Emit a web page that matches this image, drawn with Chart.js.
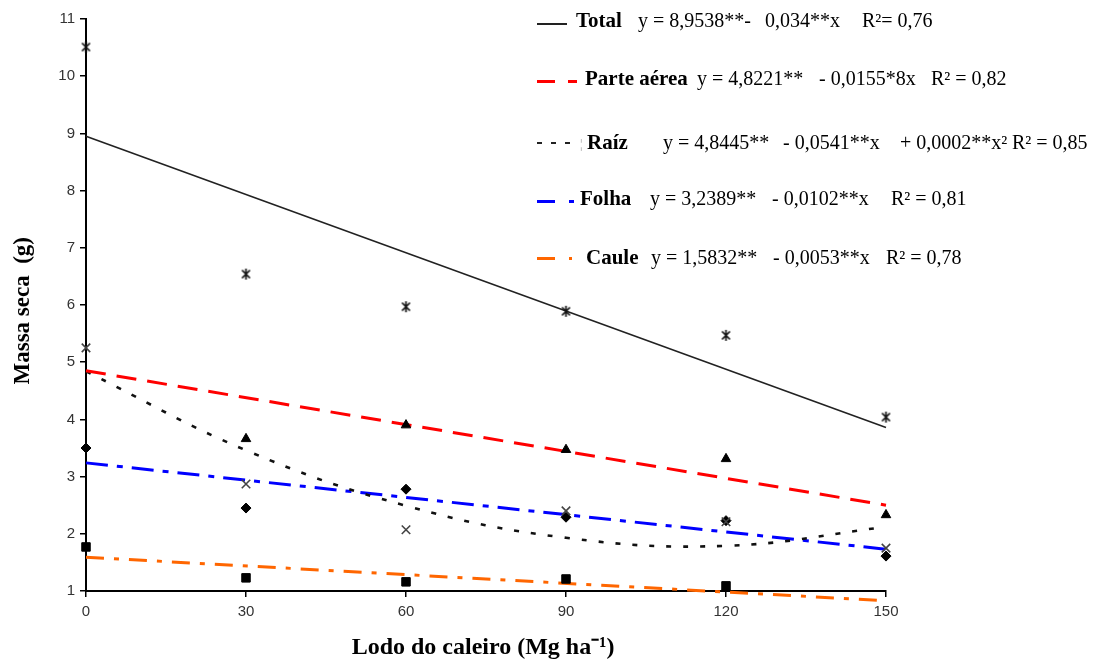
<!DOCTYPE html>
<html>
<head>
<meta charset="utf-8">
<script src="https://cdn.jsdelivr.net/npm/chart.js@4.4.1/dist/chart.umd.min.js"></script>
<style>
  html, body { margin: 0; padding: 0; background: #fff; }
  #wrap { position: relative; width: 1094px; height: 662px; }
  #c { position: absolute; left: 0; top: 0; }
  .lg { position: absolute; font-family: "Liberation Serif", "Times New Roman", serif; font-size: 20px; line-height: 20px; color: #000; white-space: nowrap; }
  .b { font-weight: bold; font-size: 21px; }
  .ln { position: absolute; }
</style>
</head>
<body>
<div id="wrap">
  <canvas id="c" width="1094" height="662"></canvas>
</div>
<script>
// ---- data ----
const doses = [0, 30, 60, 90, 120, 150];
const xTicks = [0, 30, 60, 90, 120, 150];
const yTicks = [1, 2, 3, 4, 5, 6, 7, 8, 9, 10, 11];

// observed means
const totalObs      = [10.51, 6.54, 5.97, 5.89, 5.47, 4.04];
const parteAereaObs = [null, 3.66, 3.90, 3.47, 3.31, 2.33];
const raizObs       = [5.25, 2.87, 2.07, 2.40, 2.21, 1.75];
const folhaObs      = [3.50, 2.45, 2.78, 2.29, 2.23, 1.61];
const cauleObs      = [1.77, 1.23, 1.16, 1.21, 1.09, null];

// fitted curves as drawn
const lineX         = [0, 150];
const totalFit      = [8.95, 3.86];
const parteAereaFit = [4.85, 2.50];
const raizFit       = [4.84, 3.46, 2.49, 1.93, 1.79, 2.12];
const folhaFit      = [3.24, 1.73];
const cauleFit      = [1.59, 0.83];

// legend entries
const legendNames = ["Total", "Parte aérea", "Raíz", "Folha", "Caule"];

function pts(xs, ys) {
  const out = [];
  xs.forEach((x, i) => { if (ys[i] !== null) out.push({ x: x, y: ys[i] }); });
  return out;
}

// asterisk marker (x with vertical bar)
function asterisk() {
  const c = document.createElement('canvas');
  c.width = 13; c.height = 13;
  const g = c.getContext('2d');
  g.strokeStyle = '#111'; g.lineWidth = 1.7;
  g.beginPath();
  g.moveTo(2.5, 2.5); g.lineTo(10.5, 10.5);
  g.moveTo(10.5, 2.5); g.lineTo(2.5, 10.5);
  g.moveTo(6.5, 1); g.lineTo(6.5, 12);
  g.stroke();
  return c;
}

function pointSet(label, data, style, radius, color, fill) {
  return {
    label: label, data: pts(doses, data), showLine: false, clip: false,
    pointStyle: style, pointRadius: radius, pointHoverRadius: radius,
    pointBackgroundColor: fill ? color : 'rgba(0,0,0,0)',
    pointBorderColor: color, pointBorderWidth: fill ? 1 : 1.6
  };
}
function lineSet(label, xs, ys, color, width, dash, tension) {
  return {
    label: label, data: pts(xs, ys), showLine: true, clip: false,
    borderColor: color, borderWidth: width, borderDash: dash,
    pointRadius: 0, pointHoverRadius: 0, tension: tension || 0,
    fill: false
  };
}

const datasets = [
  pointSet('Total obs', totalObs, asterisk(), 6, '#111', false),
  pointSet('Parte aérea obs', parteAereaObs, 'triangle', 5.5, '#000', true),
  pointSet('Raíz obs', raizObs, 'crossRot', 6, '#444', false),
  pointSet('Folha obs', folhaObs, 'rectRot', 5, '#000', true),
  pointSet('Caule obs', cauleObs, 'rect', 6, '#000', true),
  lineSet('Total', lineX, totalFit, '#222', 1.6, []),
  lineSet('Parte aérea', lineX, parteAereaFit, '#ff0000', 3, [20, 11]),
  lineSet('Raíz', doses, raizFit, '#111', 2.6, [5, 12], 0.4),
  lineSet('Folha', lineX, folhaFit, '#0000ff', 3, [22, 9, 6, 9]),
  lineSet('Caule', lineX, cauleFit, '#ff6600', 3, [18, 10, 5, 10])
];

new Chart(document.getElementById('c'), {
  type: 'scatter',
  data: { datasets: datasets },
  options: {
    responsive: false,
    animation: false,
    devicePixelRatio: 1,
    layout: { padding: { top: 19, right: 208, left: 0, bottom: 0 } },
    plugins: { legend: { display: false }, tooltip: { enabled: false } },
    scales: {
      x: {
        type: 'linear', min: 0, max: 150,
        afterBuildTicks: s => { s.ticks = xTicks.map(v => ({ value: v })); },
        afterFit: s => { s.height = 71; },
        grid: { drawOnChartArea: false, drawTicks: true, tickLength: 6, color: '#000', lineWidth: 1.5 },
        border: { display: true, color: '#000', width: 2 },
        ticks: { color: '#333', padding: 6, font: { family: 'Liberation Sans', size: 15 }, maxRotation: 0 },
        title: { display: true, text: 'Lodo do caleiro (Mg ha⁻¹) ', color: '#000',
                 font: { family: 'Liberation Serif', size: 24, weight: 'bold' }, padding: { top: 0, bottom: 0 } }
      },
      y: {
        type: 'linear', min: 1, max: 11,
        afterBuildTicks: s => { s.ticks = yTicks.map(v => ({ value: v })); },
        afterFit: s => { s.width = 86; },
        grid: { drawOnChartArea: false, drawTicks: true, tickLength: 6, color: '#000', lineWidth: 1.5 },
        border: { display: true, color: '#000', width: 2 },
        ticks: { color: '#333', padding: 5, font: { family: 'Liberation Sans', size: 15 } },
        title: { display: true, text: 'Massa seca  (g)  ', color: '#000',
                 font: { family: 'Liberation Serif', size: 23, weight: 'bold' }, padding: { top: 9, bottom: 0 } }
      }
    }
  }
});

// ---- legend (HTML text) ----
const wrap = document.getElementById('wrap');
function txt(s, left, top, bold, extra) {
  const d = document.createElement('div');
  d.className = 'lg' + (bold ? ' b' : '');
  d.textContent = s;
  d.style.left = left + 'px'; d.style.top = top + 'px';
  if (extra) Object.assign(d.style, extra);
  wrap.appendChild(d);
}
function seg(left, top, w, h, color) {
  const d = document.createElement('div');
  d.className = 'ln';
  d.style.left = left + 'px'; d.style.top = top + 'px';
  d.style.width = w + 'px'; d.style.height = h + 'px';
  d.style.background = color;
  wrap.appendChild(d);
}

// row 1 Total
seg(537, 23, 30, 2, '#222');
txt(legendNames[0], 576, 10, true);
txt('y = 8,9538**-', 638, 10);
txt('0,034**x', 765, 10);
txt('R²= 0,76', 862, 10);

// row 2 Parte aérea
seg(537, 80, 18, 3, '#ff0000');
seg(568, 80, 9, 3, '#ff0000');
txt(legendNames[1], 585, 68, true);
txt('y = 4,8221**', 697, 68);
txt('- 0,0155*8x', 819, 68);
txt('R² = 0,82', 931, 68);

// row 3 Raíz
seg(537, 142, 5, 2, '#222');
seg(551, 142, 5, 2, '#222');
seg(565, 142, 5, 2, '#222');
txt('¦', 580, 134, false, { fontSize: '12px', color: '#999' });
txt(legendNames[2], 587, 132, true);
txt('y = 4,8445**', 663, 132);
txt('- 0,0541**x', 783, 132);
txt('+ 0,0002**x²', 900, 132);
txt('R² = 0,85', 1012, 132);

// row 4 Folha
seg(537, 200, 18, 3, '#0000ff');
seg(569, 200, 5, 3, '#0000ff');
txt(legendNames[3], 580, 188, true);
txt('y = 3,2389**', 650, 188);
txt('- 0,0102**x', 772, 188);
txt('R² = 0,81', 891, 188);

// row 5 Caule
seg(537, 257, 18, 3, '#ff6600');
seg(569, 257, 3, 3, '#ff6600');
txt(legendNames[4], 586, 247, true);
txt('y = 1,5832**', 651, 247);
txt('- 0,0053**x', 773, 247);
txt('R² = 0,78', 886, 247);
</script>
</body>
</html>
